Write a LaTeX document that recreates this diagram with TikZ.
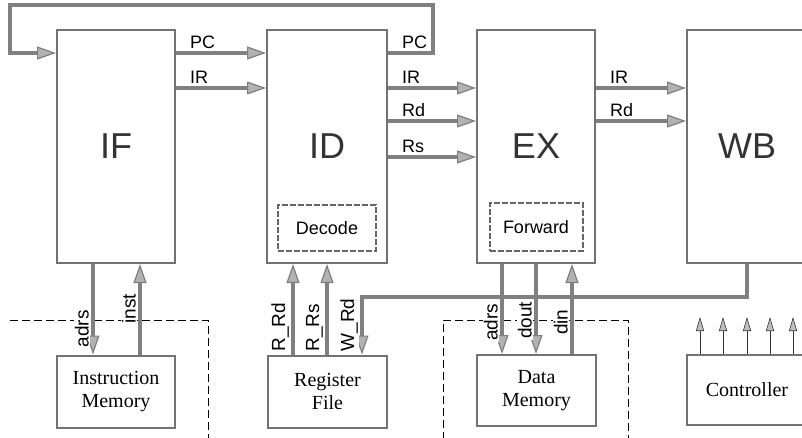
\documentclass[tikz,border=0pt]{standalone}
\usepackage{fontspec}
\setmainfont{Liberation Serif}
\setsansfont{Liberation Sans}
\usetikzlibrary{positioning, calc, arrows.meta}

\begin{document}
\begin{tikzpicture}[x=1pt, y=-1pt,
        stage/.style={draw=black!55, line width=2pt, minimum width=118pt, minimum height=233pt, inner sep=0pt,
            font=\sffamily\fontsize{36}{40}\selectfont, text=black!80},
        unit/.style={draw=black!60, line width=2pt, dash pattern=on 6pt off 2pt, inner sep=0pt,
            font=\sffamily\fontsize{18}{20}\selectfont},
        mem/.style={draw=black!55, line width=2pt, minimum width=118pt, minimum height=72pt, inner sep=0pt,
            align=center, font=\fontsize{20}{23}\selectfont},
        bus/.style={line width=4pt, draw=black!50, -{Triangle[length=19pt, width=13pt, line width=1.2pt, fill=black!30]}},
        ctl/.style={line width=1pt, draw=black!80, -{Triangle[length=14pt, width=8pt, line width=0.6pt, fill=black!25]}},
        border/.style={line width=0.8pt, dash pattern=on 8pt off 4pt},
        lab/.style={font=\sffamily\fontsize{18}{20}\selectfont, anchor=base west, inner sep=0pt, xshift=12pt, yshift=4pt},
        rlab/.style={font=\sffamily\fontsize{19}{21}\selectfont, rotate=90, anchor=south west, fill=white, inner sep=1pt}
    ]
    \useasboundingbox (0,0) rectangle (802,438);

    % rows and columns of the buses
    \coordinate (rowPC) at (0,53);
    \coordinate (rowIR) at (0,88);
    \coordinate (rowRd) at (0,121);
    \coordinate (rowRs) at (0,157);
    \coordinate (fbR) at (433,5);
    \coordinate (fbL) at (10,5);
    \coordinate (wbtap) at (747,297);
    \coordinate (wrd) at (362,297);

    % pipeline stages
    \node[stage] (IF) at (116,146.5) {IF};
    \node[stage, minimum width=120pt] (ID) at (327,146.5) {ID};
    \node[stage] (EX) at (536,146.5) {EX};
    \node[stage, minimum width=120pt] (WB) at (747,146.5) {WB};

    \node[unit, minimum width=98pt, minimum height=46pt] (dec) at (327,228) {Decode};
    \node[unit, minimum width=93pt, minimum height=48pt] (fwd) at (536,227) {Forward};

    % memories and controller
    \node[mem] (IM) at (116,391.5) {Instruction\\ Memory};
    \node[mem, minimum width=119pt] (RF) at (327.5,391.5) {Register\\ File};
    \node[mem, minimum width=119pt, minimum height=71pt] (DM) at (536.5,390.5) {Data\\ Memory};
    \node[mem, minimum width=120pt, minimum height=70pt] (ctrl) at (747,390) {Controller};

    % chip borders
    \draw[border] (10,320) -- (208,320) -- (208,440);
    \draw[border] (443,440) -- (443,320) -- (628,320) -- (628,440);

    % stage to stage
    \draw[bus] (ID.east |- rowPC) node[lab] {PC} -| (fbR) -- (fbL) |- (IF.west |- rowPC);
    \draw[bus] (IF.east |- rowPC) node[lab] {PC} -- (ID.west |- rowPC);
    \draw[bus] (IF.east |- rowIR) node[lab] {IR} -- (ID.west |- rowIR);
    \draw[bus] (ID.east |- rowIR) node[lab] {IR} -- (EX.west |- rowIR);
    \draw[bus] (ID.east |- rowRd) node[lab] {Rd} -- (EX.west |- rowRd);
    \draw[bus] (ID.east |- rowRs) node[lab] {Rs} -- (EX.west |- rowRs);
    \draw[bus] (EX.east |- rowIR) node[lab] {IR} -- (WB.west |- rowIR);
    \draw[bus] (EX.east |- rowRd) node[lab] {Rd} -- (WB.west |- rowRd);

    % instruction memory
    \draw[bus] (IF.south -| 93,0) -- (IM.north -| 93,0);
    \draw[bus] (IM.north -| 140,0) -- (IF.south -| 140,0);
    \node[rlab] at ($(IM.north -| 93,0)+(-3,-6)$) {adrs};
    \node[rlab] at ($(IM.north -| 140,0)+(-3,-30)$) {inst};

    % register file
    \draw[bus] (RF.north -| 293,0) -- (ID.south -| 293,0);
    \draw[bus] (RF.north -| 327,0) -- (ID.south -| 327,0);
    \draw[bus] (WB.south -| wbtap) -- (wbtap) -- (wrd) -- (RF.north -| wrd);
    \node[rlab] at ($(RF.north -| 293,0)+(-3,-2)$) {R\_Rd};
    \node[rlab] at ($(RF.north -| 327,0)+(-3,-2)$) {R\_Rs};
    \node[rlab] at ($(RF.north -| wrd)+(-3,-2)$) {W\_Rd};

    % data memory
    \draw[bus] (EX.south -| 502,0) -- (DM.north -| 502,0);
    \draw[bus] (EX.south -| 536,0) -- (DM.north -| 536,0);
    \draw[bus] (DM.north -| 572,0) -- (EX.south -| 572,0);
    \node[rlab] at ($(DM.north -| 502,0)+(-3,-12)$) {adrs};
    \node[rlab] at ($(DM.north -| 536,0)+(-3,-14)$) {dout};
    \node[rlab] at ($(DM.north -| 572,0)+(-3,-18)$) {din};

    % control lines
    \foreach \cx in {700,723,747,770,793}
        \draw[ctl] (ctrl.north -| \cx,0) -- ++(0,-37);

\end{tikzpicture}
\end{document}
